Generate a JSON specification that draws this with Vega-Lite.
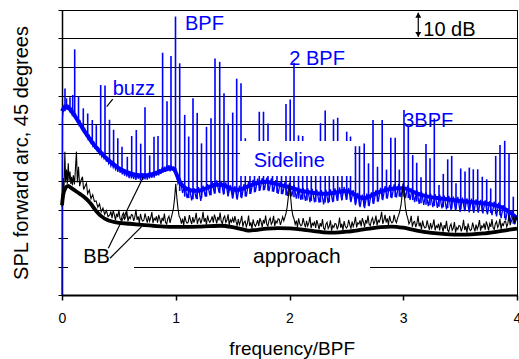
{
"$schema":"https://vega.github.io/schema/vega-lite/v6.json",
"width":455,"height":285,"autosize":"none",
"padding":{"left":62,"top":10,"right":2,"bottom":64},
"config":{"view":{"stroke":"#000","strokeWidth":1},"font":"Liberation Sans"},
"datasets":{
"blueN":[{"f":0,"db":0},{"f":0.004,"db":62},{"f":0.01,"db":64.8},{"f":0.02,"db":66.8},{"f":0.03,"db":65.2},{"f":0.04,"db":67},{"f":0.05,"db":65.4},{"f":0.06,"db":66.3},{"f":0.07,"db":64.5},{"f":0.08,"db":65.4},{"f":0.09,"db":63.3},{"f":0.1,"db":64.3},{"f":0.11,"db":62.6},{"f":0.12,"db":63.4},{"f":0.13,"db":61.2},{"f":0.14,"db":62},{"f":0.15,"db":59.8},{"f":0.16,"db":60.8},{"f":0.17,"db":58.7},{"f":0.18,"db":59.6},{"f":0.19,"db":57.4},{"f":0.2,"db":58.3},{"f":0.21,"db":56.2},{"f":0.22,"db":57},{"f":0.23,"db":54.8},{"f":0.24,"db":55.8},{"f":0.25,"db":53.6},{"f":0.26,"db":54.7},{"f":0.27,"db":52.4},{"f":0.28,"db":53.4},{"f":0.29,"db":51.3},{"f":0.3,"db":52.6},{"f":0.31,"db":50.6},{"f":0.32,"db":51.4},{"f":0.33,"db":49.5},{"f":0.34,"db":50.6},{"f":0.35,"db":48.6},{"f":0.36,"db":49.7},{"f":0.37,"db":47.9},{"f":0.38,"db":48.7},{"f":0.39,"db":46.8},{"f":0.4,"db":48.2},{"f":0.41,"db":46.2},{"f":0.42,"db":47.3},{"f":0.43,"db":45.3},{"f":0.44,"db":46.5},{"f":0.45,"db":44.8},{"f":0.46,"db":46},{"f":0.47,"db":44.1},{"f":0.48,"db":45.3},{"f":0.49,"db":43.2},{"f":0.5,"db":44.9},{"f":0.51,"db":42.9},{"f":0.52,"db":44.2},{"f":0.53,"db":42.3},{"f":0.54,"db":43.8},{"f":0.55,"db":41.9},{"f":0.56,"db":43.6},{"f":0.57,"db":41.5},{"f":0.58,"db":43.4},{"f":0.59,"db":41},{"f":0.6,"db":43.2},{"f":0.61,"db":40.9},{"f":0.62,"db":42.9},{"f":0.63,"db":40.7},{"f":0.64,"db":42.8},{"f":0.65,"db":40.4},{"f":0.66,"db":42.6},{"f":0.67,"db":40.8},{"f":0.68,"db":42.3},{"f":0.69,"db":40.2},{"f":0.7,"db":42.8},{"f":0.71,"db":40.4},{"f":0.72,"db":42.6},{"f":0.73,"db":40.6},{"f":0.74,"db":42.4},{"f":0.75,"db":40.5},{"f":0.76,"db":42.9},{"f":0.77,"db":40.9},{"f":0.78,"db":43},{"f":0.79,"db":41.1},{"f":0.8,"db":43.2},{"f":0.81,"db":41.2},{"f":0.82,"db":43.5},{"f":0.83,"db":41.9},{"f":0.84,"db":43.9},{"f":0.85,"db":42},{"f":0.86,"db":44.2},{"f":0.87,"db":42.5},{"f":0.88,"db":44.8},{"f":0.89,"db":43},{"f":0.9,"db":45},{"f":0.91,"db":43.2},{"f":0.92,"db":45.4},{"f":0.93,"db":43.5},{"f":0.94,"db":45.6},{"f":0.95,"db":43.4},{"f":0.96,"db":45.5},{"f":0.97,"db":43.6},{"f":0.98,"db":45},{"f":0.99,"db":43.1},{"f":1.0,"db":44.5},{"f":1.01,"db":41.5},{"f":1.02,"db":39},{"f":1.04,"db":40.5},{"f":1.06,"db":35.8},{"f":1.08,"db":38.5},{"f":1.1,"db":34},{"f":1.12,"db":37.8},{"f":1.14,"db":33.2},{"f":1.16,"db":37.5},{"f":1.18,"db":33.8},{"f":1.2,"db":37.9},{"f":1.22,"db":33},{"f":1.24,"db":38.4},{"f":1.26,"db":34.5},{"f":1.28,"db":38.9},{"f":1.3,"db":35},{"f":1.32,"db":39.8},{"f":1.34,"db":35.6},{"f":1.36,"db":40.2},{"f":1.38,"db":36},{"f":1.4,"db":40},{"f":1.42,"db":35.2},{"f":1.44,"db":39.5},{"f":1.46,"db":34.6},{"f":1.48,"db":38.6},{"f":1.5,"db":33.8},{"f":1.52,"db":38.2},{"f":1.54,"db":33.5},{"f":1.56,"db":38.4},{"f":1.58,"db":34},{"f":1.6,"db":38.9},{"f":1.62,"db":34.5},{"f":1.64,"db":39.7},{"f":1.66,"db":35.6},{"f":1.68,"db":40.4},{"f":1.7,"db":36.2},{"f":1.72,"db":40.8},{"f":1.74,"db":36.6},{"f":1.76,"db":41},{"f":1.78,"db":36.9},{"f":1.8,"db":41.2},{"f":1.82,"db":36.4},{"f":1.84,"db":40.9},{"f":1.86,"db":36.2},{"f":1.88,"db":40.3},{"f":1.9,"db":35.5},{"f":1.92,"db":39.9},{"f":1.94,"db":35.4},{"f":1.96,"db":39.6},{"f":1.98,"db":34.8},{"f":2.0,"db":39.2},{"f":2.02,"db":34.6},{"f":2.04,"db":38.6},{"f":2.06,"db":33.8},{"f":2.08,"db":38},{"f":2.1,"db":33.4},{"f":2.12,"db":37.6},{"f":2.14,"db":33},{"f":2.16,"db":37.5},{"f":2.18,"db":32.6},{"f":2.2,"db":37.2},{"f":2.22,"db":32.5},{"f":2.24,"db":37},{"f":2.26,"db":32.4},{"f":2.28,"db":36.8},{"f":2.3,"db":31.8},{"f":2.32,"db":37},{"f":2.34,"db":32.2},{"f":2.36,"db":37.1},{"f":2.38,"db":32.6},{"f":2.4,"db":37.4},{"f":2.42,"db":33},{"f":2.44,"db":37.8},{"f":2.46,"db":33.2},{"f":2.48,"db":37.9},{"f":2.5,"db":33.4},{"f":2.52,"db":37.6},{"f":2.54,"db":32.6},{"f":2.56,"db":36.8},{"f":2.58,"db":31.5},{"f":2.6,"db":35.8},{"f":2.62,"db":30.8},{"f":2.64,"db":35.2},{"f":2.66,"db":30.5},{"f":2.68,"db":35.6},{"f":2.7,"db":31.2},{"f":2.72,"db":36},{"f":2.74,"db":32},{"f":2.76,"db":36.8},{"f":2.78,"db":32.8},{"f":2.8,"db":37.6},{"f":2.82,"db":33.3},{"f":2.84,"db":38.2},{"f":2.86,"db":33.8},{"f":2.88,"db":38.6},{"f":2.9,"db":34},{"f":2.92,"db":38.8},{"f":2.94,"db":34.2},{"f":2.96,"db":39},{"f":2.98,"db":34.3},{"f":3.0,"db":39},{"f":3.02,"db":34},{"f":3.04,"db":38.5},{"f":3.06,"db":33.4},{"f":3.08,"db":37.6},{"f":3.1,"db":32.6},{"f":3.12,"db":36.8},{"f":3.14,"db":32},{"f":3.16,"db":36.4},{"f":3.18,"db":31.6},{"f":3.2,"db":36},{"f":3.22,"db":31.2},{"f":3.24,"db":35.6},{"f":3.26,"db":30.8},{"f":3.28,"db":35.4},{"f":3.3,"db":30.6},{"f":3.32,"db":35.2},{"f":3.34,"db":30.4},{"f":3.36,"db":34.9},{"f":3.38,"db":30},{"f":3.4,"db":34.8},{"f":3.42,"db":29.8},{"f":3.44,"db":34.5},{"f":3.46,"db":29.6},{"f":3.48,"db":34.4},{"f":3.5,"db":29.2},{"f":3.52,"db":34.2},{"f":3.54,"db":29.4},{"f":3.56,"db":33.9},{"f":3.58,"db":29},{"f":3.6,"db":33.8},{"f":3.62,"db":28.8},{"f":3.64,"db":33.6},{"f":3.66,"db":28.9},{"f":3.68,"db":33.4},{"f":3.7,"db":28.6},{"f":3.72,"db":33.2},{"f":3.74,"db":28.3},{"f":3.76,"db":32.9},{"f":3.78,"db":28},{"f":3.8,"db":32.8},{"f":3.82,"db":27.6},{"f":3.84,"db":32.4},{"f":3.86,"db":27},{"f":3.88,"db":31.5},{"f":3.9,"db":26.2},{"f":3.92,"db":30.4},{"f":3.94,"db":25.6},{"f":3.96,"db":29.5},{"f":3.98,"db":24.8},{"f":4.0,"db":27.5}],
"tones":[{"f":0.0264,"db":64.5,"hi":72.5},{"f":0.0396,"db":65,"hi":69},{"f":0.0703,"db":64.5,"hi":69.4},{"f":0.0941,"db":63.5,"hi":70.2},{"f":0.1116,"db":63,"hi":86.2},{"f":0.1451,"db":60.5,"hi":69.6},{"f":0.1873,"db":57.8,"hi":65.5},{"f":0.2259,"db":55.5,"hi":63.7},{"f":0.2664,"db":53.5,"hi":61.4},{"f":0.3015,"db":51.5,"hi":59.6},{"f":0.3402,"db":49.8,"hi":73.7},{"f":0.378,"db":48.3,"hi":73.5},{"f":0.4176,"db":46.8,"hi":61.5},{"f":0.4536,"db":45.5,"hi":58},{"f":0.4905,"db":44.5,"hi":55},{"f":0.5275,"db":43.5,"hi":52},{"f":0.5741,"db":42.7,"hi":48.5},{"f":0.6127,"db":42.2,"hi":55.8},{"f":0.6532,"db":41.8,"hi":57.9},{"f":0.6919,"db":41.6,"hi":53.1},{"f":0.7297,"db":41.6,"hi":65.9},{"f":0.771,"db":41.8,"hi":49},{"f":0.8088,"db":42.2,"hi":55.5},{"f":0.844,"db":42.8,"hi":55.8},{"f":0.8844,"db":43.5,"hi":85},{"f":0.9231,"db":44,"hi":68},{"f":0.9582,"db":44.3,"hi":83.9},{"f":0.9978,"db":43,"hi":97.7},{"f":1.0347,"db":36.5,"hi":81.3},{"f":1.0787,"db":34.5,"hi":63.2},{"f":1.1138,"db":34,"hi":55.6},{"f":1.1516,"db":33.6,"hi":69},{"f":1.1886,"db":33.6,"hi":63.9},{"f":1.2264,"db":34,"hi":53.2},{"f":1.2703,"db":34.5,"hi":59},{"f":1.3099,"db":35,"hi":62},{"f":1.3451,"db":35.6,"hi":83},{"f":1.3864,"db":35.7,"hi":81.8},{"f":1.4242,"db":35.4,"hi":70.8},{"f":1.4611,"db":34.8,"hi":60.2},{"f":1.5007,"db":34.1,"hi":64},{"f":1.5358,"db":33.9,"hi":75.9},{"f":1.5736,"db":34.2,"hi":74.3},{"f":1.6114,"db":34.6,"hi":55},{"f":1.6527,"db":35.4,"hi":50},{"f":1.6923,"db":36,"hi":50},{"f":1.7345,"db":36.5,"hi":64.3},{"f":1.7714,"db":36.7,"hi":64.3},{"f":1.811,"db":36.7,"hi":60.2},{"f":1.8505,"db":36.3,"hi":50},{"f":1.8901,"db":35.8,"hi":50},{"f":1.9297,"db":35.4,"hi":50},{"f":1.9692,"db":35,"hi":67},{"f":2.0062,"db":34.8,"hi":68.6},{"f":2.0396,"db":34.3,"hi":81.5},{"f":2.0791,"db":33.8,"hi":56},{"f":2.116,"db":33.5,"hi":55.8},{"f":2.1538,"db":33.2,"hi":53.8},{"f":2.1916,"db":33,"hi":45},{"f":2.2303,"db":32.7,"hi":45},{"f":2.2725,"db":32.5,"hi":60.3},{"f":2.3138,"db":32.5,"hi":64.7},{"f":2.3499,"db":32.6,"hi":50},{"f":2.3868,"db":32.8,"hi":61.6},{"f":2.4237,"db":33.1,"hi":62.2},{"f":2.4615,"db":33.4,"hi":52},{"f":2.5029,"db":33.5,"hi":57.3},{"f":2.5363,"db":33.1,"hi":55.6},{"f":2.5802,"db":32,"hi":52.2},{"f":2.6154,"db":31.4,"hi":52.2},{"f":2.6567,"db":31,"hi":53.2},{"f":2.6945,"db":31.3,"hi":46.2},{"f":2.7341,"db":32.1,"hi":61.4},{"f":2.7736,"db":32.8,"hi":45},{"f":2.8149,"db":33.5,"hi":61.4},{"f":2.8527,"db":33.9,"hi":44},{"f":2.8905,"db":34.2,"hi":55.2},{"f":2.9292,"db":34.4,"hi":55.2},{"f":2.9653,"db":34.5,"hi":44},{"f":3.0066,"db":34.5,"hi":64.9},{"f":3.0444,"db":34,"hi":59.3},{"f":3.0831,"db":33.3,"hi":49.1},{"f":3.1182,"db":32.8,"hi":46.4},{"f":3.156,"db":32.2,"hi":41.3},{"f":3.2,"db":31.7,"hi":53},{"f":3.2352,"db":31.5,"hi":48},{"f":3.273,"db":31.2,"hi":62},{"f":3.3143,"db":31,"hi":38.6},{"f":3.3521,"db":30.8,"hi":42.5},{"f":3.3908,"db":30.5,"hi":47.6},{"f":3.4259,"db":30.3,"hi":48.8},{"f":3.4637,"db":30.1,"hi":39.2},{"f":3.5051,"db":30,"hi":44.4},{"f":3.5429,"db":29.8,"hi":43.3},{"f":3.5807,"db":29.6,"hi":44.7},{"f":3.6158,"db":29.5,"hi":44.1},{"f":3.6545,"db":29.3,"hi":44.1},{"f":3.6949,"db":29.2,"hi":41.5},{"f":3.7336,"db":29,"hi":40.6},{"f":3.7688,"db":28.8,"hi":37.4},{"f":3.8127,"db":28.5,"hi":48.8},{"f":3.8505,"db":28,"hi":52.6},{"f":3.8919,"db":27,"hi":54.1},{"f":3.9297,"db":26,"hi":49.7},{"f":3.9675,"db":25,"hi":34.5}],
"blueS":[{"f":0,"db":64.5},{"f":0.02,"db":65.8},{"f":0.04,"db":66.2},{"f":0.06,"db":65.6},{"f":0.08,"db":64.6},{"f":0.1,"db":63.5},{"f":0.13,"db":61.8},{"f":0.16,"db":59.9},{"f":0.2,"db":57.3},{"f":0.25,"db":54.4},{"f":0.3,"db":51.8},{"f":0.35,"db":49.6},{"f":0.4,"db":47.6},{"f":0.45,"db":45.9},{"f":0.5,"db":44.5},{"f":0.55,"db":43.5},{"f":0.6,"db":42.7},{"f":0.65,"db":42.2},{"f":0.7,"db":42},{"f":0.75,"db":42},{"f":0.8,"db":42.4},{"f":0.85,"db":43.1},{"f":0.9,"db":43.9},{"f":0.95,"db":44.5},{"f":0.98,"db":44.4},{"f":1.0,"db":43},{"f":1.03,"db":40.2},{"f":1.06,"db":38.3},{"f":1.1,"db":37.2},{"f":1.15,"db":36.6},{"f":1.2,"db":36.6},{"f":1.25,"db":37.2},{"f":1.3,"db":38},{"f":1.35,"db":38.7},{"f":1.4,"db":38.7},{"f":1.45,"db":38},{"f":1.5,"db":37.1},{"f":1.55,"db":36.9},{"f":1.6,"db":37.5},{"f":1.65,"db":38.4},{"f":1.7,"db":39.1},{"f":1.75,"db":39.6},{"f":1.8,"db":39.7},{"f":1.85,"db":39.3},{"f":1.9,"db":38.8},{"f":1.95,"db":38.3},{"f":2.0,"db":37.8},{"f":2.05,"db":37.2},{"f":2.1,"db":36.6},{"f":2.15,"db":36.2},{"f":2.2,"db":35.9},{"f":2.25,"db":35.6},{"f":2.3,"db":35.5},{"f":2.35,"db":35.6},{"f":2.4,"db":35.9},{"f":2.45,"db":36.3},{"f":2.5,"db":36.5},{"f":2.55,"db":35.8},{"f":2.6,"db":34.6},{"f":2.65,"db":34},{"f":2.7,"db":34.5},{"f":2.75,"db":35.5},{"f":2.8,"db":36.3},{"f":2.85,"db":36.9},{"f":2.9,"db":37.3},{"f":2.95,"db":37.5},{"f":3.0,"db":37.5},{"f":3.05,"db":37},{"f":3.1,"db":36},{"f":3.15,"db":35.2},{"f":3.2,"db":34.7},{"f":3.3,"db":34},{"f":3.4,"db":33.5},{"f":3.5,"db":33},{"f":3.6,"db":32.6},{"f":3.7,"db":32.2},{"f":3.8,"db":31.6},{"f":3.85,"db":31},{"f":3.9,"db":30},{"f":3.95,"db":28.6},{"f":4.0,"db":27}],
"blackN":[{"f":0,"db":31},{"f":0.004,"db":35},{"f":0.012,"db":41},{"f":0.018,"db":37.5},{"f":0.025,"db":50.3},{"f":0.032,"db":39.5},{"f":0.04,"db":44},{"f":0.047,"db":39},{"f":0.055,"db":46.2},{"f":0.062,"db":40},{"f":0.07,"db":43.3},{"f":0.078,"db":39},{"f":0.085,"db":41.5},{"f":0.092,"db":38.5},{"f":0.1,"db":42},{"f":0.11,"db":38.8},{"f":0.127,"db":50.3},{"f":0.135,"db":39.5},{"f":0.145,"db":45},{"f":0.155,"db":38.2},{"f":0.165,"db":40},{"f":0.18,"db":41.5},{"f":0.19,"db":37},{"f":0.2,"db":38},{"f":0.215,"db":39.2},{"f":0.225,"db":35.5},{"f":0.24,"db":36.8},{"f":0.255,"db":33.8},{"f":0.27,"db":35.2},{"f":0.285,"db":32.8},{"f":0.3,"db":33},{"f":0.315,"db":30.8},{"f":0.33,"db":32},{"f":0.345,"db":29.2},{"f":0.36,"db":30.5},{"f":0.375,"db":28.3},{"f":0.39,"db":29.6},{"f":0.405,"db":27.5},{"f":0.42,"db":28.1},{"f":0.43,"db":29.3},{"f":0.44,"db":27},{"f":0.45,"db":29.7},{"f":0.46,"db":28.2},{"f":0.47,"db":26.3},{"f":0.48,"db":28.5},{"f":0.49,"db":27.3},{"f":0.5,"db":29.9},{"f":0.51,"db":26.8},{"f":0.52,"db":26.2},{"f":0.53,"db":28},{"f":0.54,"db":28.8},{"f":0.55,"db":26.6},{"f":0.56,"db":27.3},{"f":0.57,"db":29.4},{"f":0.58,"db":25.8},{"f":0.59,"db":27.5},{"f":0.6,"db":26.8},{"f":0.61,"db":28.2},{"f":0.62,"db":28},{"f":0.63,"db":26},{"f":0.64,"db":27.3},{"f":0.65,"db":30},{"f":0.66,"db":26.4},{"f":0.67,"db":27.6},{"f":0.68,"db":25.3},{"f":0.69,"db":28.5},{"f":0.7,"db":26.6},{"f":0.71,"db":25.9},{"f":0.72,"db":26.3},{"f":0.73,"db":28.6},{"f":0.74,"db":26.8},{"f":0.75,"db":25.4},{"f":0.76,"db":27.7},{"f":0.77,"db":25.9},{"f":0.78,"db":27.1},{"f":0.79,"db":29.1},{"f":0.8,"db":25.3},{"f":0.81,"db":26.9},{"f":0.82,"db":26.3},{"f":0.83,"db":27.6},{"f":0.84,"db":25.4},{"f":0.85,"db":28.1},{"f":0.86,"db":26.7},{"f":0.87,"db":24.9},{"f":0.88,"db":27.1},{"f":0.89,"db":25.9},{"f":0.9,"db":28.6},{"f":0.91,"db":25.5},{"f":0.92,"db":24.9},{"f":0.93,"db":26.8},{"f":0.94,"db":27.6},{"f":0.95,"db":25.3},{"f":0.96,"db":27.1},{"f":0.97,"db":28.6},{"f":0.98,"db":30.5},{"f":0.99,"db":34},{"f":1.0,"db":39},{"f":1.01,"db":34},{"f":1.02,"db":30.2},{"f":1.03,"db":27.6},{"f":1.04,"db":26.9},{"f":1.05,"db":25},{"f":1.06,"db":26.8},{"f":1.07,"db":24.5},{"f":1.08,"db":27.7},{"f":1.09,"db":25.9},{"f":1.1,"db":25.2},{"f":1.11,"db":25.6},{"f":1.12,"db":28},{"f":1.13,"db":26.2},{"f":1.14,"db":24.9},{"f":1.15,"db":27.3},{"f":1.16,"db":25.4},{"f":1.17,"db":26.7},{"f":1.18,"db":28.8},{"f":1.19,"db":25},{"f":1.2,"db":26.6},{"f":1.21,"db":27},{"f":1.22,"db":25.1},{"f":1.23,"db":26.4},{"f":1.24,"db":29.2},{"f":1.25,"db":25.7},{"f":1.26,"db":27},{"f":1.27,"db":24.7},{"f":1.28,"db":27.9},{"f":1.29,"db":26.1},{"f":1.3,"db":25.5},{"f":1.31,"db":26.3},{"f":1.32,"db":27.6},{"f":1.33,"db":25.4},{"f":1.34,"db":28.2},{"f":1.35,"db":26.8},{"f":1.36,"db":25.1},{"f":1.37,"db":27.4},{"f":1.38,"db":26.2},{"f":1.39,"db":28.9},{"f":1.4,"db":25.8},{"f":1.41,"db":25.1},{"f":1.42,"db":27},{"f":1.43,"db":27.7},{"f":1.44,"db":25.5},{"f":1.45,"db":26.2},{"f":1.46,"db":28.3},{"f":1.47,"db":24.6},{"f":1.48,"db":26.4},{"f":1.49,"db":25.6},{"f":1.5,"db":27},{"f":1.51,"db":25.4},{"f":1.52,"db":27.7},{"f":1.53,"db":25.8},{"f":1.54,"db":24.3},{"f":1.55,"db":26.6},{"f":1.56,"db":24.7},{"f":1.57,"db":25.8},{"f":1.58,"db":27.8},{"f":1.59,"db":24},{"f":1.6,"db":25.5},{"f":1.61,"db":25.9},{"f":1.62,"db":23.9},{"f":1.63,"db":25.1},{"f":1.64,"db":27.9},{"f":1.65,"db":24.2},{"f":1.66,"db":25.5},{"f":1.67,"db":23.3},{"f":1.68,"db":26.5},{"f":1.69,"db":24.8},{"f":1.7,"db":24.1},{"f":1.71,"db":25},{"f":1.72,"db":26.3},{"f":1.73,"db":24.2},{"f":1.74,"db":27},{"f":1.75,"db":25.7},{"f":1.76,"db":23.9},{"f":1.77,"db":26.3},{"f":1.78,"db":25.1},{"f":1.79,"db":27.9},{"f":1.8,"db":24.8},{"f":1.81,"db":24.2},{"f":1.82,"db":26.2},{"f":1.83,"db":27},{"f":1.84,"db":24.8},{"f":1.85,"db":25.6},{"f":1.86,"db":27.8},{"f":1.87,"db":24.2},{"f":1.88,"db":26},{"f":1.89,"db":25.3},{"f":1.9,"db":26.7},{"f":1.91,"db":26.5},{"f":1.92,"db":24.6},{"f":1.93,"db":25.9},{"f":1.94,"db":27.4},{"f":1.95,"db":26},{"f":1.96,"db":27.3},{"f":1.97,"db":28.8},{"f":1.98,"db":31},{"f":1.99,"db":34.5},{"f":2.0,"db":39.2},{"f":2.01,"db":34.2},{"f":2.02,"db":30},{"f":2.03,"db":27.8},{"f":2.04,"db":26.6},{"f":2.05,"db":24.8},{"f":2.06,"db":26.1},{"f":2.07,"db":23.8},{"f":2.08,"db":26.9},{"f":2.09,"db":25},{"f":2.1,"db":24.3},{"f":2.11,"db":24.6},{"f":2.12,"db":27},{"f":2.13,"db":25.1},{"f":2.14,"db":23.7},{"f":2.15,"db":26},{"f":2.16,"db":24.2},{"f":2.17,"db":25.3},{"f":2.18,"db":27.4},{"f":2.19,"db":23.5},{"f":2.2,"db":25.1},{"f":2.21,"db":24.5},{"f":2.22,"db":25.8},{"f":2.23,"db":23.5},{"f":2.24,"db":26.3},{"f":2.25,"db":24.8},{"f":2.26,"db":23},{"f":2.27,"db":25.2},{"f":2.28,"db":24},{"f":2.29,"db":26.6},{"f":2.3,"db":23.5},{"f":2.31,"db":22.9},{"f":2.32,"db":24.8},{"f":2.33,"db":25.5},{"f":2.34,"db":23.3},{"f":2.35,"db":24.1},{"f":2.36,"db":26.2},{"f":2.37,"db":22.6},{"f":2.38,"db":24.4},{"f":2.39,"db":23.7},{"f":2.4,"db":25.1},{"f":2.41,"db":24.9},{"f":2.42,"db":23},{"f":2.43,"db":24.3},{"f":2.44,"db":27.2},{"f":2.45,"db":23.6},{"f":2.46,"db":25},{"f":2.47,"db":22.7},{"f":2.48,"db":25.9},{"f":2.49,"db":24.2},{"f":2.5,"db":23.5},{"f":2.51,"db":24},{"f":2.52,"db":26.4},{"f":2.53,"db":24.7},{"f":2.54,"db":23.3},{"f":2.55,"db":25.8},{"f":2.56,"db":24},{"f":2.57,"db":25.3},{"f":2.58,"db":27.4},{"f":2.59,"db":23.7},{"f":2.6,"db":25.3},{"f":2.61,"db":24.9},{"f":2.62,"db":26.2},{"f":2.63,"db":24.1},{"f":2.64,"db":27},{"f":2.65,"db":25.6},{"f":2.66,"db":23.9},{"f":2.67,"db":26.3},{"f":2.68,"db":25.1},{"f":2.69,"db":27.9},{"f":2.7,"db":24.8},{"f":2.71,"db":24.3},{"f":2.72,"db":26.2},{"f":2.73,"db":27.1},{"f":2.74,"db":24.9},{"f":2.75,"db":25.8},{"f":2.76,"db":27.9},{"f":2.77,"db":24.4},{"f":2.78,"db":26.2},{"f":2.79,"db":25.6},{"f":2.8,"db":27},{"f":2.81,"db":29.2},{"f":2.82,"db":25},{"f":2.83,"db":26.3},{"f":2.84,"db":28.1},{"f":2.85,"db":25.5},{"f":2.86,"db":26.9},{"f":2.87,"db":24.6},{"f":2.88,"db":27.8},{"f":2.89,"db":26},{"f":2.9,"db":25.3},{"f":2.91,"db":25.7},{"f":2.92,"db":28.1},{"f":2.93,"db":26.2},{"f":2.94,"db":25.4},{"f":2.95,"db":27},{"f":2.96,"db":28},{"f":2.97,"db":29.5},{"f":2.98,"db":31.5},{"f":2.99,"db":35},{"f":3.0,"db":39.5},{"f":3.01,"db":34.5},{"f":3.02,"db":30.4},{"f":3.03,"db":28.2},{"f":3.04,"db":26.9},{"f":3.05,"db":25},{"f":3.06,"db":25.8},{"f":3.07,"db":27.8},{"f":3.08,"db":24},{"f":3.09,"db":25.5},{"f":3.1,"db":25.8},{"f":3.11,"db":23.8},{"f":3.12,"db":25.1},{"f":3.13,"db":27.8},{"f":3.14,"db":24.1},{"f":3.15,"db":25.4},{"f":3.16,"db":23},{"f":3.17,"db":26.1},{"f":3.18,"db":24.3},{"f":3.19,"db":23.5},{"f":3.2,"db":23.8},{"f":3.21,"db":26.2},{"f":3.22,"db":24.3},{"f":3.23,"db":22.9},{"f":3.24,"db":25.2},{"f":3.25,"db":23.4},{"f":3.26,"db":24.5},{"f":3.27,"db":26.5},{"f":3.28,"db":22.7},{"f":3.29,"db":24.3},{"f":3.3,"db":23.7},{"f":3.31,"db":25},{"f":3.32,"db":22.7},{"f":3.33,"db":25.5},{"f":3.34,"db":24.1},{"f":3.35,"db":22.2},{"f":3.36,"db":24.5},{"f":3.37,"db":23.3},{"f":3.38,"db":26},{"f":3.39,"db":22.8},{"f":3.4,"db":22.2},{"f":3.41,"db":24.1},{"f":3.42,"db":24.9},{"f":3.43,"db":22.7},{"f":3.44,"db":23.5},{"f":3.45,"db":25.6},{"f":3.46,"db":21.9},{"f":3.47,"db":23.7},{"f":3.48,"db":23},{"f":3.49,"db":24.4},{"f":3.5,"db":24.2},{"f":3.51,"db":22.3},{"f":3.52,"db":23.6},{"f":3.53,"db":26.4},{"f":3.54,"db":22.8},{"f":3.55,"db":24.2},{"f":3.56,"db":21.9},{"f":3.57,"db":25.1},{"f":3.58,"db":23.3},{"f":3.59,"db":22.6},{"f":3.6,"db":23},{"f":3.61,"db":25.4},{"f":3.62,"db":23.7},{"f":3.63,"db":22.3},{"f":3.64,"db":24.7},{"f":3.65,"db":23},{"f":3.66,"db":24.2},{"f":3.67,"db":26.3},{"f":3.68,"db":22.6},{"f":3.69,"db":24.2},{"f":3.7,"db":23.7},{"f":3.71,"db":25.1},{"f":3.72,"db":22.9},{"f":3.73,"db":25.8},{"f":3.74,"db":24.4},{"f":3.75,"db":22.7},{"f":3.76,"db":25},{"f":3.77,"db":23.9},{"f":3.78,"db":26.6},{"f":3.79,"db":23.6},{"f":3.8,"db":23},{"f":3.81,"db":25},{"f":3.82,"db":25.8},{"f":3.83,"db":23.7},{"f":3.84,"db":24.5},{"f":3.85,"db":26.7},{"f":3.86,"db":23.2},{"f":3.87,"db":25},{"f":3.88,"db":24.4},{"f":3.89,"db":25.8},{"f":3.9,"db":25.7},{"f":3.91,"db":23.9},{"f":3.92,"db":25.2},{"f":3.93,"db":28.1},{"f":3.94,"db":24.5},{"f":3.95,"db":25.9},{"f":3.96,"db":26.7},{"f":3.97,"db":27.9},{"f":3.98,"db":25.2},{"f":3.99,"db":27.7},{"f":4.0,"db":26.3}],
"blackS":[{"f":0,"db":31.5},{"f":0.01,"db":35},{"f":0.03,"db":37.5},{"f":0.055,"db":38.3},{"f":0.08,"db":37.6},{"f":0.12,"db":36.5},{"f":0.16,"db":35.4},{"f":0.2,"db":34.2},{"f":0.25,"db":32.2},{"f":0.3,"db":29.5},{"f":0.35,"db":27.5},{"f":0.4,"db":26.3},{"f":0.45,"db":25.7},{"f":0.5,"db":25.3},{"f":0.6,"db":25},{"f":0.7,"db":24.6},{"f":0.8,"db":24.3},{"f":0.9,"db":24},{"f":1.0,"db":23.9},{"f":1.1,"db":23.9},{"f":1.2,"db":24},{"f":1.3,"db":24.2},{"f":1.4,"db":24.3},{"f":1.5,"db":23.8},{"f":1.6,"db":22.9},{"f":1.65,"db":22.6},{"f":1.7,"db":22.8},{"f":1.8,"db":23.3},{"f":1.9,"db":23.5},{"f":2.0,"db":23.4},{"f":2.1,"db":23},{"f":2.2,"db":22.5},{"f":2.3,"db":22},{"f":2.4,"db":21.9},{"f":2.5,"db":22.2},{"f":2.6,"db":22.7},{"f":2.7,"db":23.3},{"f":2.8,"db":23.8},{"f":2.9,"db":24},{"f":3.0,"db":23.6},{"f":3.1,"db":22.8},{"f":3.2,"db":22.1},{"f":3.3,"db":21.6},{"f":3.4,"db":21.3},{"f":3.5,"db":21.2},{"f":3.6,"db":21.3},{"f":3.7,"db":21.6},{"f":3.8,"db":22.1},{"f":3.9,"db":22.7},{"f":4.0,"db":23.3}],
"boxes":[{"f":1.565,"db":54,"f2":2.567,"db2":41.75},{"f":0.053,"db":22.1,"f2":0.633,"db2":7},{"f":1.565,"db":18.2,"f2":2.708,"db2":7}],
"leaders":[{"f":0.393,"db":66.1,"f2":0.446,"db2":68.7},{"f":0.407,"db":16.4,"f2":0.715,"db2":41.4},{"f":0.422,"db":12.9,"f2":0.7,"db2":24},{"f":3.132,"db":90.6,"f2":3.132,"db2":99}],
"heads":[{"f":3.132,"db":98.2,"dir":"up"},{"f":3.132,"db":91.4,"dir":"down"}],
"txtBlue":[{"f":1.081,"db":93,"label":"BPF"},{"f":1.998,"db":80.7,"label":"2 BPF"},{"f":3.0,"db":59.05,"label":"3BPF"},{"f":0.4457,"db":70.2,"label":"buzz"},{"f":1.685,"db":45,"label":"Sideline"}],
"txtBlack":[{"f":3.176,"db":91,"label":"10 dB"},{"f":0.187,"db":11.1,"label":"BB"}],
"txtApp":[{"f":1.679,"db":11.1,"label":"approach"}]
},
"encoding":{
"x":{"field":"f","type":"quantitative","scale":{"domain":[0,4],"nice":false,"zero":false},
"axis":{"values":[0,1,2,3,4],"grid":false,"tickSize":5,"tickWidth":1.5,"tickColor":"#000","domainWidth":2,"domainColor":"#000","labelFontSize":14,"labelColor":"#000","labelFont":"Liberation Sans","labelBaseline":"alphabetic","labelPadding":22,"labelFlush":false,"title":"frequency/BPF","titleFont":"Liberation Sans","titleFontSize":19,"titleFontWeight":"normal","titleColor":"#000","titleX":229.7,"titleY":59,"titleBaseline":"alphabetic","titleAlign":"center"}},
"y":{"field":"db","type":"quantitative","scale":{"domain":[0,100],"nice":false},
"axis":{"values":[0,10,20,30,40,50,60,70,80,90,100],"grid":true,"gridColor":"#000","gridWidth":1,"labels":false,"tickSize":4,"tickColor":"#000","domainColor":"#000","domainWidth":1.5,"title":"SPL forward arc, 45 degrees","titleFont":"Liberation Sans","titleFontSize":20,"titleFontWeight":"normal","titleColor":"#000","titleX":-35,"titleY":142.5,"titleAngle":270,"titleAlign":"center","titleBaseline":"alphabetic"}}
},
"layer":[
{"data":{"name":"blueN"},"mark":{"type":"line","color":"#0000FF","strokeWidth":1.3}},
{"data":{"name":"tones"},"mark":{"type":"rule","color":"#0000FF","strokeWidth":1.6},"encoding":{"y2":{"field":"hi"}}},
{"data":{"name":"blueS"},"mark":{"type":"line","color":"#0000FF","strokeWidth":4,"interpolate":"monotone"}},
{"data":{"name":"blackN"},"mark":{"type":"line","color":"#000","strokeWidth":1.1}},
{"data":{"name":"blackS"},"mark":{"type":"line","color":"#000","strokeWidth":3.8,"interpolate":"monotone"}},
{"data":{"name":"boxes"},"mark":{"type":"rect","fill":"#fff","stroke":null},"encoding":{"x2":{"field":"f2"},"y2":{"field":"db2"}}},
{"data":{"name":"leaders"},"mark":{"type":"rule","color":"#000","strokeWidth":1.2},"encoding":{"x2":{"field":"f2"},"y2":{"field":"db2"}}},
{"data":{"name":"heads"},"mark":{"type":"point","filled":true,"color":"#000","size":35,"opacity":1},"encoding":{"shape":{"field":"dir","type":"nominal","scale":{"domain":["up","down"],"range":["triangle-up","triangle-down"]},"legend":null}}},
{"data":{"name":"txtBlue"},"mark":{"type":"text","color":"#0000FF","fontSize":20,"font":"Liberation Sans","align":"left","baseline":"alphabetic"},"encoding":{"text":{"field":"label"}}},
{"data":{"name":"txtBlack"},"mark":{"type":"text","color":"#000","fontSize":20,"font":"Liberation Sans","align":"left","baseline":"alphabetic"},"encoding":{"text":{"field":"label"}}},
{"data":{"name":"txtApp"},"mark":{"type":"text","color":"#000","fontSize":21,"font":"Liberation Sans","align":"left","baseline":"alphabetic"},"encoding":{"text":{"field":"label"}}}
]
}
